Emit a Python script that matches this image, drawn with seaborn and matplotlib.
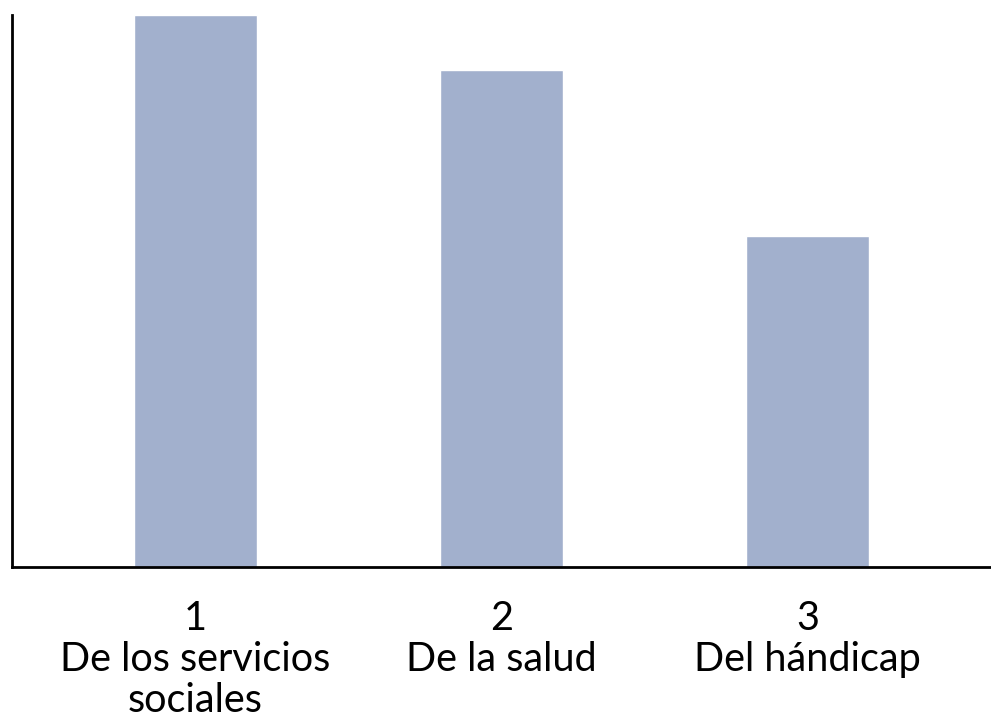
import matplotlib
matplotlib.use("Agg")
import matplotlib.pyplot as plt
import seaborn as sns
import pandas as pd

categories = ["1\nDe los servicios\nsociales", "2\nDe la salud", "3\nDel hándicap"]
values = [100, 90, 60]

df = pd.DataFrame({"cat": categories, "val": values})

sns.set_style("white")
plt.rcParams["font.family"] = ["Lato", "DejaVu Sans"]

fig = plt.figure(figsize=(9.91, 7.19), dpi=100)
ax = fig.add_axes([12/991, (719-567)/719, 1 - 12/991, (567-15)/719])
sns.barplot(data=df, x="cat", y="val", color="#A2B0CD", width=0.4, saturation=1, ax=ax)
ax.set_xlim(-0.6, 2.6)
ax.set_ylim(0, 100)
ax.set_xlabel("")
ax.set_ylabel("")
ax.set_yticks([])
for s in ["top", "right"]:
    ax.spines[s].set_visible(False)
for s in ["left", "bottom"]:
    ax.spines[s].set_color("black")
    ax.spines[s].set_linewidth(2)
ax.tick_params(axis="x", length=0, pad=24, labelsize=28.5, labelcolor="black")
for lbl in ax.get_xticklabels():
    lbl.set_multialignment("center")
    lbl.set_linespacing(1.12)
    lbl.set_fontweight("normal")
fig.savefig("out.png", dpi=100)
